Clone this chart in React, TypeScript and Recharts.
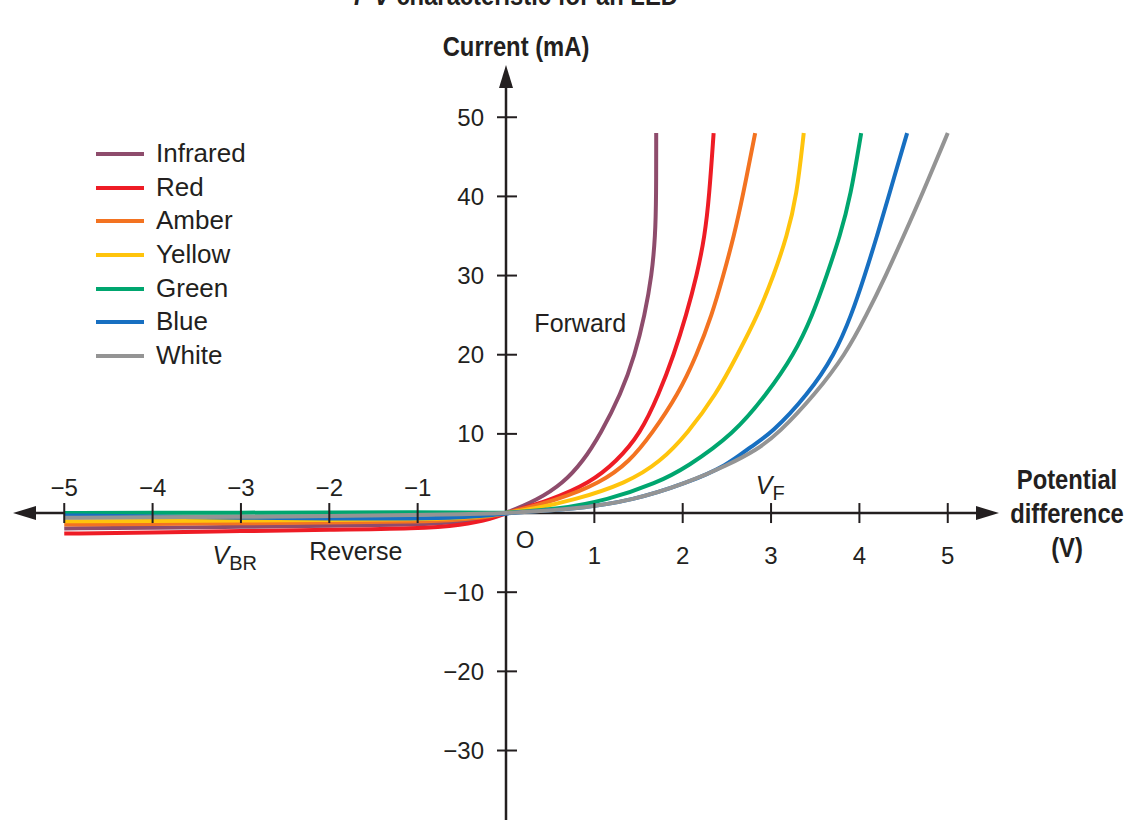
import React from 'react';
import { LineChart, Line, XAxis, YAxis, ReferenceLine, ReferenceDot, Legend } from 'recharts';

const X_DOMAIN: [number, number] = [-5.58, 5.58];
const Y_DOMAIN: [number, number] = [-48, 56.6];
const xTicks = [-5, -4, -3, -2, -1, 1, 2, 3, 4, 5];
const yTicks = [-40, -30, -20, -10, 10, 20, 30, 40, 50];

type Pt = [number, number];

const infraredPts: Pt[] = [
  [-5, -1.95], [-4, -1.85], [-3, -1.75], [-2, -1.62], [-1, -1.48], [-0.5, -1.15], [-0.15, -0.55], [0, 0],
  [0.35, 1.6], [0.65, 3.8], [0.87, 6.5], [1.07, 10], [1.3, 15], [1.46, 20], [1.57, 25], [1.65, 30],
  [1.69, 35], [1.7, 40], [1.7, 48],
];
const redPts: Pt[] = [
  [-5, -2.6], [-4, -2.45], [-3, -2.28], [-2, -2.12], [-1, -1.98], [-0.5, -1.55], [-0.15, -0.72], [0, 0],
  [0.5, 1.6], [0.95, 3.8], [1.25, 6.5], [1.52, 10], [1.73, 15], [1.9, 20], [2.04, 25], [2.16, 30],
  [2.25, 35], [2.3, 40], [2.35, 48],
];
const amberPts: Pt[] = [
  [-5, -1.45], [-4, -1.38], [-3, -1.3], [-2, -1.2], [-1, -1.1], [-0.5, -0.85], [-0.15, -0.4], [0, 0],
  [0.57, 1.6], [1.07, 3.8], [1.4, 6.5], [1.65, 10], [1.95, 15], [2.16, 20], [2.33, 25], [2.46, 30],
  [2.58, 35], [2.68, 40], [2.82, 48],
];
const yellowPts: Pt[] = [
  [-5, -1.05], [-4, -1.0], [-3, -0.95], [-2, -0.88], [-1, -0.8], [-0.5, -0.6], [-0.15, -0.3], [0, 0],
  [0.3, 0.5], [0.76, 1.6], [1.37, 3.8], [1.75, 6.5], [2.05, 10], [2.38, 15], [2.62, 20], [2.85, 25],
  [3.03, 30], [3.18, 35], [3.29, 40], [3.37, 48],
];
const greenPts: Pt[] = [
  [-5, 0.0], [-4, 0.02], [-3, 0.05], [-2, 0.07], [-1, 0.1], [-0.5, 0.08], [-0.15, 0.04], [0, 0],
  [0.6, 0.5], [1.14, 1.6], [1.71, 3.8], [2.05, 5.8], [2.58, 10], [2.95, 15], [3.26, 20], [3.47, 25],
  [3.63, 30], [3.78, 35], [3.9, 40], [4.02, 48],
];
const bluePts: Pt[] = [
  [-5, -0.3], [-4, -0.45], [-3, -0.6], [-2, -0.7], [-1, -0.7], [-0.5, -0.55], [-0.15, -0.28], [0, 0],
  [0.8, 0.5], [1.44, 1.6], [2.05, 3.8], [2.5, 6], [2.78, 8.5], [3.0, 10], [3.42, 15], [3.72, 20],
  [3.91, 25], [4.06, 30], [4.2, 35], [4.33, 40], [4.54, 48],
];
const whitePts: Pt[] = [
  [-5, -0.6], [-4, -0.55], [-3, -0.48], [-2, -0.4], [-1, -0.25], [-0.5, -0.15], [-0.15, -0.07], [0, 0],
  [0.8, 0.5], [1.44, 1.6], [2.05, 3.8], [2.5, 6], [2.84, 8], [3.08, 10], [3.5, 15], [3.84, 20],
  [4.08, 25], [4.3, 30], [4.5, 35], [4.7, 40], [5.0, 48],
];

const toRows = (pts: Pt[]) => pts.map(([v, i]) => ({ v, i }));

const series = [
  { name: 'Infrared', color: '#8E4C6C', data: toRows(infraredPts) },
  { name: 'Red', color: '#EE1C25', data: toRows(redPts) },
  { name: 'Amber', color: '#F37321', data: toRows(amberPts) },
  { name: 'Yellow', color: '#FFC40C', data: toRows(yellowPts) },
  { name: 'Green', color: '#00A66F', data: toRows(greenPts) },
  { name: 'Blue', color: '#176FC1', data: toRows(bluePts) },
  { name: 'White', color: '#949494', data: toRows(whitePts) },
];

const INK = '#231F20';
const FONT = "'Liberation Sans', Arial, sans-serif";
const minus = (n: number) => (n < 0 ? '\u2212' + Math.abs(n) : String(n));

const CondText = ({ x, y, children }: { x: number; y: number; children: React.ReactNode }) => (
  <text
    transform={`translate(${x},${y}) scale(0.85,1)`}
    textAnchor="middle"
    fontFamily={FONT}
    fontWeight="bold"
    fontSize={28}
    fill={INK}
  >
    {children}
  </text>
);

const renderLegend = (props: any) => {
  const payload: any[] = props.payload || [];
  const order = series.map((s) => s.name);
  const items = [...payload].sort((a, b) => order.indexOf(a.value) - order.indexOf(b.value));
  return (
    <div style={{ fontFamily: FONT, fontSize: 26, color: INK }}>
      {items.map((entry: any) => (
        <div key={entry.value} style={{ display: 'flex', alignItems: 'center', height: 33.7 }}>
          <div style={{ width: 48, height: 4, background: entry.color, marginRight: 12 }} />
          <span style={{ lineHeight: '33.7px' }}>{entry.value}</span>
        </div>
      ))}
    </div>
  );
};

const xTickShape = (t: number) => (p: any) => (
  <g>
    <line x1={p.cx} x2={p.cx} y1={p.cy - 10} y2={p.cy + 10} stroke={INK} strokeWidth={2} />
    <text
      x={p.cx}
      y={t < 0 ? p.cy - 17 : p.cy + 51}
      textAnchor="middle"
      fontFamily={FONT}
      fontSize={24}
      fill={INK}
    >
      {minus(t)}
    </text>
  </g>
);

const yTickShape = (t: number) => (p: any) => (
  <g>
    <line x1={p.cx - 9} x2={p.cx + 11} y1={p.cy} y2={p.cy} stroke={INK} strokeWidth={2} />
    <text x={p.cx - 22} y={p.cy + 8.5} textAnchor="end" fontFamily={FONT} fontSize={24} fill={INK}>
      {minus(t)}
    </text>
  </g>
);

const originShape = (p: any) => (
  <text x={p.cx + 19} y={p.cy + 35} textAnchor="middle" fontFamily={FONT} fontSize={24} fill={INK}>
    O
  </text>
);

const leftArrow = (p: any) => (
  <polygon points={`${p.cx},${p.cy} ${p.cx + 23},${p.cy - 7} ${p.cx + 23},${p.cy + 7}`} fill={INK} />
);

const rightArrow = (p: any) => (
  <g>
    <polygon points={`${p.cx},${p.cy} ${p.cx - 23},${p.cy - 7} ${p.cx - 23},${p.cy + 7}`} fill={INK} />
    <CondText x={p.cx + 68} y={p.cy - 24}>Potential</CondText>
    <CondText x={p.cx + 68} y={p.cy + 10}>difference</CondText>
    <CondText x={p.cx + 68} y={p.cy + 44}>(V)</CondText>
  </g>
);

const topArrow = (p: any) => (
  <g>
    <polygon points={`${p.cx},${p.cy} ${p.cx - 7},${p.cy + 23} ${p.cx + 7},${p.cy + 23}`} fill={INK} />
    <CondText x={p.cx + 10} y={p.cy - 9}>Current (mA)</CondText>
    <CondText x={p.cx + 10} y={p.cy - 60}>
      <tspan fontStyle="italic">I</tspan>
      {'\u2013'}
      <tspan fontStyle="italic">V</tspan>
      {' characteristic for an LED'}
    </CondText>
  </g>
);

const plainLabel = (txt: string) => (p: any) => (
  <text x={p.cx} y={p.cy + 9} textAnchor="middle" fontFamily={FONT} fontSize={25} fill={INK}>
    {txt}
  </text>
);

const subLabel = (main: string, sub: string) => (p: any) => (
  <text x={p.cx} y={p.cy + 9} textAnchor="middle" fontFamily={FONT} fontSize={25} fill={INK}>
    <tspan fontStyle="italic">{main}</tspan>
    <tspan fontSize={20} dy={6}>
      {sub}
    </tspan>
  </text>
);

export default function App() {
  return (
    <div style={{ width: 1145, height: 820, overflow: 'hidden', background: '#fff' }}>
      <style>{'body{margin:0;overflow:hidden;background:#fff}'}</style>
      <LineChart width={1145} height={900} margin={{ top: 65, right: 146, bottom: 7, left: 13 }}>
        <XAxis type="number" dataKey="v" domain={X_DOMAIN} hide allowDataOverflow />
        <YAxis type="number" dataKey="i" domain={Y_DOMAIN} hide allowDataOverflow />
        <ReferenceLine
          segment={[{ x: X_DOMAIN[0] + 0.1, y: 0 }, { x: X_DOMAIN[1] - 0.1, y: 0 }]}
          stroke={INK}
          strokeWidth={2.5}
          ifOverflow="visible"
        />
        <ReferenceLine
          segment={[{ x: 0, y: Y_DOMAIN[0] }, { x: 0, y: Y_DOMAIN[1] - 1 }]}
          stroke={INK}
          strokeWidth={2.5}
          ifOverflow="visible"
        />
        {xTicks.map((t) => (
          <ReferenceDot key={'x' + t} x={t} y={0} r={0} ifOverflow="visible" shape={xTickShape(t)} />
        ))}
        {yTicks.map((t) => (
          <ReferenceDot key={'y' + t} x={0} y={t} r={0} ifOverflow="visible" shape={yTickShape(t)} />
        ))}
        <ReferenceDot x={0} y={0} r={0} ifOverflow="visible" shape={originShape} />
        <ReferenceDot x={X_DOMAIN[0]} y={0} r={0} ifOverflow="visible" shape={leftArrow} />
        <ReferenceDot x={X_DOMAIN[1]} y={0} r={0} ifOverflow="visible" shape={rightArrow} />
        <ReferenceDot x={0} y={Y_DOMAIN[1]} r={0} ifOverflow="visible" shape={topArrow} />
        <ReferenceDot x={0.84} y={24} r={0} ifOverflow="visible" shape={plainLabel('Forward')} />
        <ReferenceDot x={-1.7} y={-4.8} r={0} ifOverflow="visible" shape={plainLabel('Reverse')} />
        <ReferenceDot x={2.99} y={3.5} r={0} ifOverflow="visible" shape={subLabel('V', 'F')} />
        <ReferenceDot x={-3.07} y={-5.3} r={0} ifOverflow="visible" shape={subLabel('V', 'BR')} />
        {series.map((s) => (
          <Line
            key={s.name}
            name={s.name}
            data={s.data}
            dataKey="i"
            type="basis"
            stroke={s.color}
            strokeWidth={4}
            dot={false}
            activeDot={false}
            legendType="line"
            isAnimationActive={false}
          />
        ))}
        <Legend
          layout="vertical"
          align="center"
          verticalAlign="middle"
          content={renderLegend}
          wrapperStyle={{ left: 96, top: 137, width: 220, height: 240 }}
        />
      </LineChart>
    </div>
  );
}
